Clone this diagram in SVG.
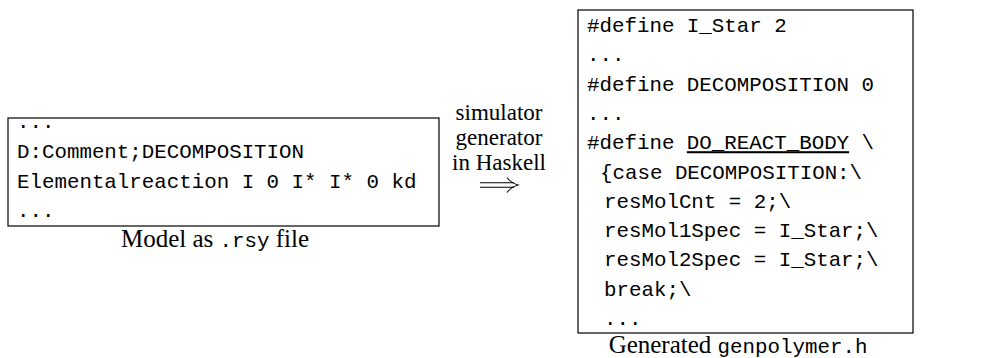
<svg xmlns="http://www.w3.org/2000/svg" width="983" height="358" viewBox="0 0 983 358">
<style>
.box{fill:#fff;stroke:#000;stroke-width:1.2}
.mono{font-family:"Liberation Mono","DejaVu Sans Mono",monospace;font-size:20.8px;fill:#000}
.serif{font-family:"Liberation Serif","DejaVu Serif",serif;font-size:25px;fill:#000}
.mid{font-family:"Liberation Serif","DejaVu Serif",serif;font-size:23px;fill:#000}
.conn{fill:none;stroke:#000;stroke-width:1.1}
</style>
<rect width="983" height="358" fill="#fff"/>
<g id="model">
<rect class="box" x="8" y="118" width="431" height="108"/>
<text class="mono" x="17" y="128">...</text>
<text class="mono" x="17" y="158">D:Comment;DECOMPOSITION</text>
<text class="mono" x="17" y="187.5">Elementalreaction I 0 I* I* 0 kd</text>
<text class="mono" x="17" y="217">...</text>
<text class="serif" x="215" y="247" text-anchor="middle">Model as <tspan class="mono">.rsy</tspan> file</text>
</g>
<g id="generator">
<text class="mid" x="499" y="120" text-anchor="middle">simulator</text>
<text class="mid" x="499" y="145" text-anchor="middle">generator</text>
<text class="mid" x="499" y="170" text-anchor="middle">in Haskell</text>
</g>
<g id="connectors">
<line class="conn" x1="480" y1="182.7" x2="514" y2="182.7"/>
<line class="conn" x1="480" y1="187.3" x2="514" y2="187.3"/>
<path class="conn" d="M507,177.5 Q511,183 518,185 Q511,187 507,192.5"/>
</g>
<g id="header">
<rect class="box" x="578" y="10" width="335" height="323"/>
<text class="mono" x="587" y="32">#define I_Star 2</text>
<text class="mono" x="587" y="61.3">...</text>
<text class="mono" x="587" y="90.6">#define DECOMPOSITION 0</text>
<text class="mono" x="587" y="119.9">...</text>
<text class="mono" x="587" y="149.2">#define <tspan text-decoration="underline">DO_REACT_BODY</tspan> \</text>
<text class="mono" x="600" y="178.5">{case DECOMPOSITION:\</text>
<text class="mono" x="604" y="207.8">resMolCnt = 2;\</text>
<text class="mono" x="604" y="237.1">resMol1Spec = I_Star;\</text>
<text class="mono" x="604" y="266.4">resMol2Spec = I_Star;\</text>
<text class="mono" x="604" y="295.7">break;\</text>
<text class="mono" x="604" y="325">...</text>
<text class="serif" x="738" y="353" text-anchor="middle">Generated <tspan class="mono">genpolymer.h</tspan></text>
</g>
</svg>
